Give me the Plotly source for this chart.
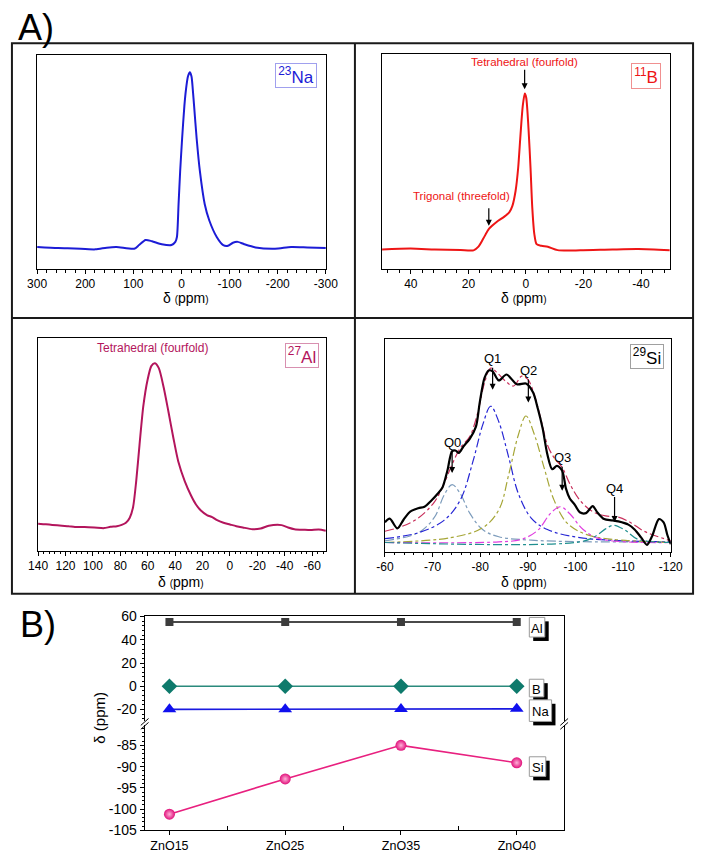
import plotly.graph_objects as go

W, H = 707, 858
def px(x): return x / W
def py(y): return 1 - y / H
def dx(a, b): return [a / W, b / W]
def dy(top, bottom): return [1 - bottom / H, 1 - top / H]

FONT = "Liberation Sans, Arial, sans-serif"

# ---------------- data ----------------
# 23Na spectrum
na_ppm = [300, 256.3, 222.7, 178.9, 155.4, 135.2, 98.3, 88.2, 74.7, 61.3, 41.1, 20.9, 12.8, 9.5, 6.1, 2.8,
          -1.3, -6.0, -9.3, -13.4, -17.4, -20.8, -23.5, -26.2, -31.5, -38.3, -48.3, -57.8, -73.2, -86.7,
          -96.8, -106.9, -117, -130.4, -153.9, -194.3, -227.9, -261.5, -300]
na_int = [10.3, 9.8, 9.6, 9.2, 10.0, 10.3, 9.5, 11.2, 13.6, 13.0, 11.6, 11.2, 12.7, 15.0, 30.3, 45.6,
          61.0, 76.3, 83.9, 90.0, 92.0, 90.0, 83.9, 76.3, 61.0, 45.6, 30.3, 22.7, 15.0, 11.2,
          10.9, 12.3, 12.7, 11.6, 10.1, 9.5, 10.3, 10.1, 9.8]

# 11B spectrum
b_ppm = [50, 40.1, 31.7, 22.7, 18.2, 16.5, 14.8, 12.8, 10.3, 7.5, 5.8, 4.7, 3.6, 2.7, 1.9, 1.1, 0.4,
         -0.1, -0.9, -1.6, -2.2, -2.9, -3.7, -5.4, -7.6, -11, -18.9, -30.1, -39.1, -50]
b_int = [9.1, 9.5, 9.1, 8.8, 8.7, 10.4, 14.2, 18.8, 21.8, 24.4, 26.4, 29.4, 36.3, 47, 62.2, 75.9, 81.7,
         79.7, 65.2, 47, 28.7, 16.5, 11.6, 10.8, 10.4, 8.8, 8.7, 9.1, 9.3, 8.7]

# 27Al spectrum
al_ppm = [140, 134.3, 129.6, 122.6, 117.8, 113.1, 106.1, 99, 91.9, 87.2, 82.5, 79, 75.9, 73.1, 70.7, 68.4,
          66, 63.2, 60.1, 57.3, 54.7, 51.9, 48.3, 44.8, 41.2, 37.7, 33, 28.3, 24.8, 21.2, 16.5, 13, 9.4,
          4.7, 0, -4.7, -9.4, -16.5, -22.4, -28.3, -37.7, -42.4, -47.1, -54.2, -58.9, -64.8, -70]
al_int = [12.7, 12.4, 12.1, 11.7, 11.5, 11.1, 11.1, 10.9, 10.6, 11.2, 11.5, 12.1, 13.1, 15.5, 20.4, 32.7,
          49.6, 68, 80.3, 86.8, 88, 85.7, 76.5, 65, 52.7, 41.9, 32.7, 25.8, 21.7, 18.9, 16.6, 15.8, 14.3,
          13.1, 12.3, 11.5, 10.9, 10.1, 10.4, 11.7, 12, 10.9, 10.1, 9.8, 9.7, 10, 9.4]

# 29Si spectrum (experimental)
si_ppm = [-60, -61, -62.6, -63.9, -65.3, -67, -68.3, -69.7, -71.1, -72.1, -73.1, -74.1, -74.8, -75.5,
          -76.5, -77.8, -79.1, -79.9, -80.9, -81.8, -82.6, -83.9, -85.5, -87.7, -89.7, -91.1, -92.1,
          -93.1, -94.1, -95.1, -96.1, -97.2, -98.0, -98.8, -99.9, -100.9, -102.2, -103.6, -104.6, -106,
          -107.7, -109, -111.1, -112.4, -113.8, -115, -116.1, -117.5, -118.5, -119.3, -120]
si_int = [13.8, 15.5, 10.9, 15, 18.8, 20.4, 21.1, 23.9, 27.3, 30.3, 38, 47.2, 47.5, 46.4,
          49.5, 53, 58.7, 70.1, 81.6, 85.1, 84.7, 80.4, 83.2, 78.6, 78.9, 74.7, 67.1,
          57.9, 45.6, 38.7, 40.3, 38, 29.6, 25, 21.9, 18.5, 18.1, 21.4, 18.4, 15.3,
          14.7, 14.2, 12.7, 10.4, 6.6, 3.2, 7.4, 15.3, 13.8, 7.7, 3.5]
# 29Si cumulative fit
fit_ppm = [-60, -63.6, -67, -70.4, -72.4, -74.1, -75.8, -77.8, -79.5, -80.9, -82.2, -83.6, -85.3, -87,
           -88.7, -90, -91.4, -92.7, -94.1, -95.5, -97.2, -98.8, -100.9, -103.6, -106.3, -109, -111.7,
           -114.4, -120]
fit_int = [9.6, 11.9, 15.8, 23.4, 31.9, 41, 48.7, 54.1, 65.5, 79.3, 86.2, 83.9, 80.1, 77.8,
           82.4, 80.9, 73.2, 62.5, 50.2, 44.1, 39.5, 31.9, 24.2, 18.8, 16.8, 16.2, 13.5, 9.6, 5.1]
# 29Si Qn components
q0_ppm = [-60, -67, -70.4, -72.4, -74.1, -75.8, -77.8, -80.5, -83.9, -90.7, -100.9, -120]
q0_int = [5.1, 8.9, 16.2, 26.5, 31.5, 27.3, 18.1, 10.4, 7, 5.4, 4.7, 4.6]
q1_ppm = [-60, -67, -72.4, -75.8, -78.5, -80.5, -82.2, -83.9, -86, -88, -90.7, -94.1, -100.9, -120]
q1_int = [6.1, 8.9, 14.7, 24.2, 42.6, 59.4, 68.3, 61, 44.1, 27.3, 15.8, 10.4, 6.6, 4.6]
q2_ppm = [-60, -73.8, -80.5, -83.9, -86, -88, -89.6, -91.4, -93.4, -95.5, -98.2, -102.2, -107.7, -120]
q2_int = [4.3, 6.6, 11.2, 19.6, 36.4, 54.8, 63.7, 54.8, 39.5, 24.2, 13.5, 8.1, 5.8, 4.3]
q3_ppm = [-60, -83.9, -88.7, -92.1, -94.8, -96.8, -98.8, -101.6, -105, -120]
q3_int = [4.3, 4.6, 5.8, 10.1, 18.1, 21.1, 17.8, 10.4, 6.1, 4.3]
q4_ppm = [-60, -100.9, -104.3, -106.3, -108, -110.4, -113.1, -120]
q4_int = [4.3, 4.6, 7.4, 10.7, 12.4, 10.1, 5.8, 4.3]

# Panel B: chemical shifts vs composition
samples = ["ZnO15", "ZnO25", "ZnO35", "ZnO40"]
shift_al = [55.2, 55.2, 55.2, 55.2]
shift_b = [0.0, 0.0, 0.0, 0.0]
shift_na = [-19.8, -19.7, -19.5, -19.4]
shift_si = [-101.2, -92.9, -85.0, -89.1]

# tick labels
na_ticks = [300, 200, 100, 0, -100, -200, -300]
b_ticks = [40, 20, 0, -20, -40]
al_ticks = [140, 120, 100, 80, 60, 40, 20, 0, -20, -40, -60]
si_ticks = [-60, -70, -80, -90, -100, -110, -120]
up_ticks = [60, 40, 20, 0, -20]
low_ticks = [-85, -90, -95, -100, -105]

def lab(v):
    return [str(t) for t in v]

# ---------------- figure ----------------
fig = go.Figure()

def spec(x, y, color, ax, width=2, dash=None, smooth=0.7):
    fig.add_trace(go.Scatter(x=x, y=y, mode="lines", xaxis="x" + ax, yaxis="y" + ax,
                             line=dict(color=color, width=width, dash=dash, shape="spline", smoothing=smooth),
                             showlegend=False, hoverinfo="skip"))

spec(na_ppm, na_int, "#1c1cd6", "")
spec(b_ppm, b_int, "#ee1515", "2")
spec(al_ppm, al_int, "#b3155c", "3")
spec(q0_ppm, q0_int, "#7d9cbc", "4", 1.2, "dashdot", 1)
spec(q1_ppm, q1_int, "#2626d4", "4", 1.2, "dashdot", 1)
spec(q2_ppm, q2_int, "#a6a637", "4", 1.2, "dashdot", 1)
spec(q3_ppm, q3_int, "#e03ee0", "4", 1.2, "dashdot", 1)
spec(q4_ppm, q4_int, "#1f8f8f", "4", 1.2, "dashdot", 1)
spec(fit_ppm, fit_int, "#c8305c", "4", 1.2, "dashdot", 1)
spec(si_ppm, si_int, "#000000", "4", 2.2, None, 0.8)

xi = list(range(len(samples)))
fig.add_trace(go.Scatter(x=xi, y=shift_al, mode="lines+markers", xaxis="x5", yaxis="y5",
                         line=dict(color="#4a4a4a", width=2),
                         marker=dict(symbol="square", size=8, color="#3c3c3c"), showlegend=False))
fig.add_trace(go.Scatter(x=xi, y=shift_b, mode="lines+markers", xaxis="x5", yaxis="y5",
                         line=dict(color="#2a8a7c", width=1.6),
                         marker=dict(symbol="diamond", size=12, color="#0e7a6c"), showlegend=False))
fig.add_trace(go.Scatter(x=xi, y=shift_na, mode="lines+markers", xaxis="x5", yaxis="y5",
                         line=dict(color="#1a1ae0", width=1.6),
                         marker=dict(symbol="triangle-up", size=12, color="#1010ee"), showlegend=False))
fig.add_trace(go.Scatter(x=xi, y=shift_si, mode="lines+markers", xaxis="x6", yaxis="y6",
                         line=dict(color="#e8207f", width=1.6),
                         marker=dict(symbol="circle", size=11, color="#e0107a",
                                     gradient=dict(type="radial", color="#ffb0d8")),
                         showlegend=False))

def spec_x(dom, anchor, rng, ticks, mdtick):
    lo, hi = min(rng), max(rng)
    mv = [v for v in range(int(lo), int(hi) + 1) if v % mdtick == 0]
    return dict(domain=dom, anchor=anchor, range=rng, tickmode="array", tickvals=ticks, ticktext=lab(ticks),
                ticks="outside", ticklen=4, tickwidth=1, tickcolor="black",
                minor=dict(tickmode="array", tickvals=mv, ticks="outside", ticklen=2.5, tickcolor="black"),
                showline=True, linecolor="black", linewidth=1, mirror=True, showgrid=False, zeroline=False,
                tickfont=dict(size=12, color="black", family=FONT))

def spec_y(dom, anchor):
    return dict(domain=dom, anchor=anchor, range=[0, 100], showticklabels=False, ticks="",
                showline=True, linecolor="black", linewidth=1, mirror=True, showgrid=False, zeroline=False)

xr = [-0.214, 3.41]
layout = dict(
    width=W, height=H, margin=dict(l=0, r=0, t=0, b=0), paper_bgcolor="white", plot_bgcolor="white",
    font=dict(family=FONT, color="black"), showlegend=False,
    xaxis=spec_x(dx(28, 326), "y", [300, -300], na_ticks, 20),
    yaxis=spec_y(dy(48, 266), "x"),
    xaxis2=spec_x(dx(384, 681), "y2", [50, -50], b_ticks, 4),
    yaxis2=spec_y(dy(47, 266), "x2"),
    xaxis3=spec_x(dx(29, 326), "y3", [140, -70], al_ticks, 4),
    yaxis3=spec_y(dy(336, 553), "x3"),
    xaxis4=spec_x(dx(387, 682), "y4", [-60, -120], si_ticks, 2),
    yaxis4=spec_y(dy(337, 554), "x4"),
    xaxis5=dict(domain=dx(139, 572), anchor="y5", side="top", range=xr, showline=True, linecolor="black",
                linewidth=1, ticks="", showticklabels=False, showgrid=False, zeroline=False),
    yaxis5=dict(domain=dy(620, 727), anchor="x5", range=[-30.2, 60], tickmode="array", tickvals=up_ticks,
                ticktext=lab(up_ticks), ticks="outside", ticklen=4, tickcolor="black",
                minor=dict(tickmode="array", tickvals=list(range(-28, 61, 4)), ticks="outside", ticklen=2,
                           tickcolor="black"),
                showline=True, linecolor="black", linewidth=1, mirror=True, showgrid=False, zeroline=False,
                tickfont=dict(size=14, color="black", family=FONT)),
    xaxis6=dict(domain=dx(139, 572), anchor="y6", range=xr, tickmode="array", tickvals=xi, ticktext=samples,
                ticks="outside", ticklen=4, tickcolor="black",
                minor=dict(tickmode="array", tickvals=[0.5, 1.5, 2.5], ticks="inside", ticklen=4,
                           tickcolor="black"),
                showline=True, linecolor="black", linewidth=1, showgrid=False, zeroline=False,
                tickfont=dict(size=12.5, color="black", family=FONT)),
    yaxis6=dict(domain=dy(731, 838), anchor="x6", range=[-105, -80.3], tickmode="array", tickvals=low_ticks,
                ticktext=lab(low_ticks), ticks="outside", ticklen=4, tickcolor="black",
                minor=dict(tickmode="array", tickvals=list(range(-105, -80)), ticks="outside", ticklen=2,
                           tickcolor="black"),
                showline=True, linecolor="black", linewidth=1, mirror=True, showgrid=False, zeroline=False,
                tickfont=dict(size=14, color="black", family=FONT)),
)
fig.update_layout(**layout)

shapes = []
# panel grid
shapes.append(dict(type="rect", xref="paper", yref="paper", x0=px(2), x1=px(705), y0=py(36), y1=py(597),
                   line=dict(color="#1a1a1a", width=2)))
shapes.append(dict(type="line", xref="paper", yref="paper", x0=px(356), x1=px(356), y0=py(36), y1=py(597),
                   line=dict(color="#1a1a1a", width=2)))
shapes.append(dict(type="line", xref="paper", yref="paper", x0=px(2), x1=px(705), y0=py(316), y1=py(316),
                   line=dict(color="#1a1a1a", width=2)))
# axis break marks
for bx in (139, 572):
    for off in (0, 4):
        shapes.append(dict(type="line", xref="paper", yref="paper", x0=px(bx - 4), x1=px(bx + 4),
                           y0=py(731 + off), y1=py(724 + off), line=dict(color="black", width=1)))
# label shadows (panel B)
boxes = [("Al", 536, 621, 552, 641), ("B", 536, 684, 551, 702), ("Na", 536, 705, 559, 727),
         ("Si", 536, 763, 553, 783)]
for t, x0, y0, x1, y1 in boxes:
    shapes.append(dict(type="rect", xref="paper", yref="paper", x0=px(x0 + 4), x1=px(x1 + 4),
                       y0=py(y1 + 4), y1=py(y0 + 4), fillcolor="black", line=dict(width=0)))
    shapes.append(dict(type="rect", xref="paper", yref="paper", x0=px(x0), x1=px(x1),
                       y0=py(y1), y1=py(y0), fillcolor="white", line=dict(color="#9a9a9a", width=1)))
fig.update_layout(shapes=shapes)

ann = []
def txt(x, y, s, size=12, color="black", xanchor="center", **kw):
    ann.append(dict(xref="paper", yref="paper", x=px(x), y=py(y), text=s, showarrow=False,
                    xanchor=xanchor, yanchor="middle", font=dict(size=size, color=color, family=FONT), **kw))

txt(6, 20, "A)", 36, xanchor="left")
txt(8, 628, "B)", 36, xanchor="left")

small = "<span style='font-size:10px'>(</span>ppm<span style='font-size:10px'>)</span>"
txt(182, 296, "δ " + small, 14)
txt(531, 296, "δ " + small, 14)
txt(177, 585, "δ " + small, 14)
txt(530, 585, "δ " + small, 14)
ann.append(dict(xref="paper", yref="paper", x=px(92), y=py(723), text="δ (ppm)", showarrow=False,
                textangle=-90, xanchor="center", yanchor="middle", font=dict(size=15, family=FONT)))

# nucleus label boxes
def nbox(x, y, w, h, s, color, border):
    ann.append(dict(xref="paper", yref="paper", x=px(x), y=py(y), text=s, showarrow=False,
                    xanchor="center", yanchor="middle", width=w, height=h, borderpad=0,
                    bordercolor=border, borderwidth=1, bgcolor="white",
                    font=dict(size=17, color=color, family=FONT)))

nbox(295, 68.5, 40, 23, "<sup>23</sup>Na", "#1c1cd6", "#a0a0ee")
nbox(656, 69, 28, 24, "<sup>11</sup>B", "#ee1515", "#f09090")
nbox(301, 354.5, 32, 23, "<sup>27</sup>Al", "#b3155c", "#d890b0")
nbox(657, 355.5, 32, 23, "<sup>29</sup>Si", "#000000", "#a0a0a0")

for t, x0, y0, x1, y1 in boxes:
    txt((x0 + x1) / 2, (y0 + y1) / 2 + 1, t, 13)

# spectrum annotations
txt(147, 346, "Tetrahedral (fourfold)", 12, "#b3155c")
ann.append(dict(xref="x2", yref="y2", x=0.45, y=83.7, ax=0, ay=-27, text="Tetrahedral (fourfold)",
                showarrow=True, arrowhead=2, arrowsize=1, arrowwidth=1.2, arrowcolor="black",
                font=dict(size=11.5, color="#ee1515", family=FONT)))
txt(466, 192, "Trigonal (threefold)", 11.5, "#ee1515")
ann.append(dict(xref="x2", yref="y2", x=12.9, y=20.1, ax=0, ay=-19, text="",
                showarrow=True, arrowhead=2, arrowsize=1, arrowwidth=1.2, arrowcolor="black"))
for q, x, y, ay in [("Q0", -74.1, 36.9, -31), ("Q1", -82.6, 76, -31), ("Q2", -90.1, 70, -32),
                    ("Q3", -97.2, 28.6, -33), ("Q4", -108.2, 13.9, -34)]:
    ann.append(dict(xref="x4", yref="y4", x=x, y=y, ax=0, ay=ay, text=q, showarrow=True,
                    arrowhead=2, arrowsize=1, arrowwidth=1.2, arrowcolor="black",
                    font=dict(size=13, color="black", family=FONT)))
fig.update_layout(annotations=ann)

fig.write_html("out.html", config={"displayModeBar": False},
               post_script="document.body.style.margin='0';document.body.style.overflow='hidden';")
